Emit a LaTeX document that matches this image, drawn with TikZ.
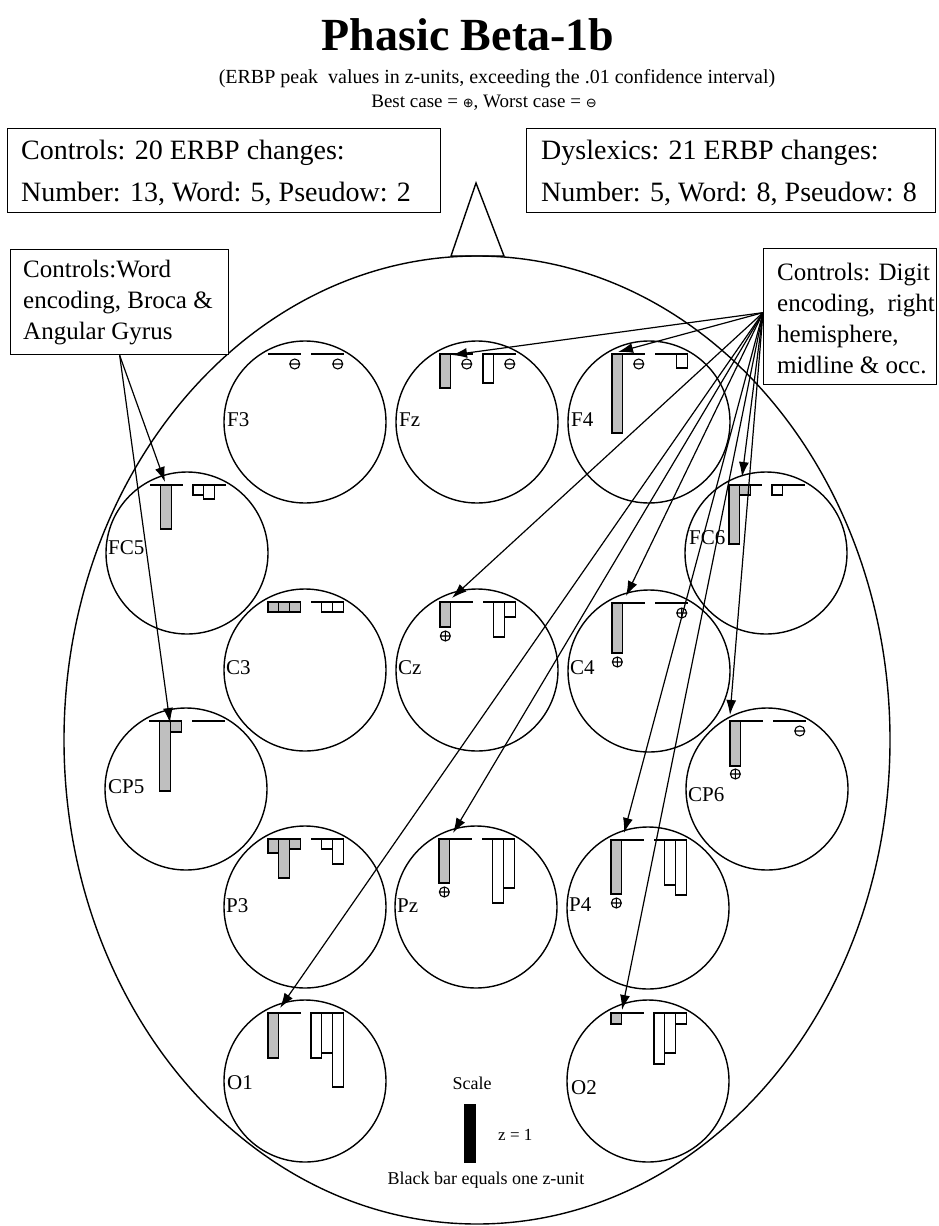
\documentclass[tikz,border=0pt]{standalone}
\usepackage{fontspec}
\setmainfont{Liberation Serif}
\newfontfamily\symf{DejaVu Sans}
\usetikzlibrary{arrows.meta}
\newcommand{\gbarAt}[2]{\draw[gbar] ({-37+10.7*(#1-1)},-68) rectangle ++(10.7,#2);}
\newcommand{\wbarAt}[2]{\draw[wbar] ({6+10.7*(#1-1)},-68) rectangle ++(10.7,#2);}
\newcommand{\bases}{\draw[baseln] (-37,-68) -- (-4,-68) (6,-68) -- (39,-68);}
\newcommand{\markL}[3]{\pic at ({-37+10.7*(#1-1)+5.35},{-68+#2}) {#3};}
\newcommand{\markR}[3]{\pic at ({6+10.7*(#1-1)+5.35},{-68+#2}) {#3};}
\tikzset{
 pics/worstm/.style={code={\draw[line width=1.1pt] (0,0) circle[radius=5pt] (-5,0) -- (5,0);}},
 pics/bestm/.style={code={\draw[line width=1.1pt] (0,0) circle[radius=5pt] (-5,0) -- (5,0) (0,-5) -- (0,5);}}
}
\begin{document}
\begin{tikzpicture}[x=1pt,y=-1pt,
  elec/.style={draw, circle, line width=1.4pt, minimum size=162pt, inner sep=0pt},
  gbar/.style={draw, line width=1.1pt, fill=black!25},
  wbar/.style={draw, line width=1.1pt, fill=white},
  baseln/.style={line width=1.3pt},
  conn/.style={line width=1.2pt, -{Latex[length=15pt,width=10pt]}},
  lbl/.style={anchor=west, inner sep=0pt, font=\fontsize{21}{24}\selectfont},
  tbox/.style={draw, line width=1.3pt, fill=white, anchor=north west, align=left, inner sep=0pt},
]
\useasboundingbox (0,0) rectangle (938,1226);
\fill[white] (0,0) rectangle (938,1226);

% title
\node[font=\fontsize{46}{50}\selectfont\bfseries, inner sep=0pt] (title) at (468,35) {Phasic Beta-1b};
\node[font=\fontsize{20}{24}\selectfont, inner sep=0pt] (sub) at (497,79) {(ERBP peak\ \ values in z-units, exceeding the .01 confidence interval)};
\node[font=\fontsize{19}{22}\selectfont, inner sep=0pt] (best) at (484,103) {Best case = {\symf\fontsize{13}{14}\selectfont ⊕}, Worst case = {\symf\fontsize{13}{14}\selectfont ⊖}};

% head
\draw[line width=1.4pt] (477,740) ellipse [x radius=413pt, y radius=484pt];
\draw[line width=1.4pt] (451,256) -- (476,183) -- (504,256) -- cycle;

% top boxes
\node[tbox, minimum width=433pt, minimum height=84pt] (cbox) at (7,128) {};
\node[anchor=west, inner sep=0pt, align=left, font=\fontsize{28}{42}\selectfont] (ctext) at (21,173) {Controls: 20 ERBP changes:\\Number: 13, Word: 5, Pseudow: 2};
\node[tbox, minimum width=409pt, minimum height=84pt] (dbox) at (526,128) {};
\node[anchor=west, inner sep=0pt, align=left, font=\fontsize{28}{42}\selectfont] (dtext) at (541,173) {Dyslexics: 21 ERBP changes:\\Number: 5, Word: 8, Pseudow: 8};

% side boxes
\node[tbox, minimum width=218pt, minimum height=105pt] (wbox) at (10,249) {};
\node[anchor=west, inner sep=0pt, align=left, font=\fontsize{25}{31}\selectfont] (wtext) at (23,303) {Controls:Word\\encoding, Broca \&\\Angular Gyrus};
\node[tbox, minimum width=173pt, minimum height=136pt] (gbox) at (763,248) {};
\node[anchor=west, inner sep=0pt, align=left, font=\fontsize{25}{31}\selectfont] (gtext) at (777,318) {Controls: Digit\\encoding,\ \ right\\hemisphere,\\midline \& occ.};

% electrodes
\node[elec] (F3) at (305,422) {};
\node[elec] (Fz) at (477,422) {};
\node[elec] (F4) at (649,422) {};
\node[elec] (FC5) at (187,553) {};
\node[elec] (FC6) at (766,553) {};
\node[elec] (C3) at (305,670) {};
\node[elec] (Cz) at (477,670) {};
\node[elec] (C4) at (649,671) {};
\node[elec] (CP5) at (186,789) {};
\node[elec] (CP6) at (767,789) {};
\node[elec] (P3) at (305,907) {};
\node[elec] (Pz) at (476,907) {};
\node[elec] (P4) at (648,908) {};
\node[elec] (O1) at (305,1081) {};
\node[elec] (O2) at (648,1081) {};

\node[lbl] (lF3) at (227,420) {F3};
\node[lbl] (lFz) at (399,420) {Fz};
\node[lbl] (lF4) at (571,420) {F4};
\node[lbl] (lFC5) at (108,548) {FC5};
\node[lbl] (lFC6) at (689,538) {FC6};
\node[lbl] (lC3) at (226,668) {C3};
\node[lbl] (lCz) at (398,668) {Cz};
\node[lbl] (lC4) at (570,668) {C4};
\node[lbl] (lCP5) at (108,787) {CP5};
\node[lbl] (lCP6) at (688,795) {CP6};
\node[lbl] (lP3) at (226,906) {P3};
\node[lbl] (lPz) at (397,906) {Pz};
\node[lbl] (lP4) at (569,905) {P4};
\node[lbl] (lO1) at (227,1083) {O1};
\node[lbl] (lO2) at (571,1088) {O2};

% bars
\begin{scope}[shift={(F3.center)}]\bases \markL{3}{10}{worstm} \markR{3}{10}{worstm}\end{scope}
\begin{scope}[shift={(Fz.center)}]\bases \gbarAt{1}{34} \markL{3}{10}{worstm} \wbarAt{1}{29} \markR{3}{10}{worstm}\end{scope}
\begin{scope}[shift={(F4.center)}]\bases \gbarAt{1}{79} \markL{3}{10}{worstm} \wbarAt{3}{14}\end{scope}
\begin{scope}[shift={(FC5.center)}]\bases \gbarAt{2}{44} \wbarAt{1}{10} \wbarAt{2}{14}\end{scope}
\begin{scope}[shift={(FC6.center)}]\bases \gbarAt{1}{59} \gbarAt{2}{10} \wbarAt{1}{10}\end{scope}
\begin{scope}[shift={(C3.center)}]\bases \gbarAt{1}{10} \gbarAt{2}{10} \gbarAt{3}{10} \wbarAt{2}{10} \wbarAt{3}{10}\end{scope}
\begin{scope}[shift={(Cz.center)}]\bases \gbarAt{1}{25} \markL{1}{34}{bestm} \wbarAt{2}{35} \wbarAt{3}{15}\end{scope}
\begin{scope}[shift={(C4.center)}]\bases \gbarAt{1}{50} \markL{1}{59}{bestm} \markR{3}{10}{bestm}\end{scope}
\begin{scope}[shift={(CP5.center)}]\bases \gbarAt{2}{70} \gbarAt{3}{11}\end{scope}
\begin{scope}[shift={(CP6.center)}]\bases \gbarAt{1}{45} \markL{1}{53}{bestm} \markR{3}{10}{worstm}\end{scope}
\begin{scope}[shift={(P3.center)}]\bases \gbarAt{1}{14} \gbarAt{2}{39} \gbarAt{3}{10} \wbarAt{2}{10} \wbarAt{3}{25}\end{scope}
\begin{scope}[shift={(Pz.center)}]\bases \gbarAt{1}{44} \markL{1}{53}{bestm} \wbarAt{2}{64} \wbarAt{3}{49}\end{scope}
\begin{scope}[shift={(P4.center)}]\bases \gbarAt{1}{54} \markL{1}{63}{bestm} \wbarAt{2}{45} \wbarAt{3}{55}\end{scope}
\begin{scope}[shift={(O1.center)}]\bases \gbarAt{1}{45} \wbarAt{1}{45} \wbarAt{2}{40} \wbarAt{3}{74}\end{scope}
\begin{scope}[shift={(O2.center)}]\bases \gbarAt{1}{11} \wbarAt{1}{51} \wbarAt{2}{40} \wbarAt{3}{11}\end{scope}

% arrow targets
\coordinate (tFz) at (452,355);
\coordinate (tF4) at (618,352);
\coordinate (tFC6) at (742,477);
\coordinate (tCz) at (452,598);
\coordinate (tC4) at (626,596);
\coordinate (tCP6) at (730,715);
\coordinate (tPz) at (453,833);
\coordinate (tP4) at (624,833);
\coordinate (tO1) at (280,1008);
\coordinate (tO2) at (622,1010);
\coordinate (tFC5) at (165,482);
\coordinate (tCP5) at (170,723);
\coordinate (gsrc) at ([yshift=4pt]gbox.west);

\foreach \t in {tFz,tF4,tFC6,tCz,tC4,tCP6,tPz,tP4,tO1,tO2}
  \draw[conn] (gsrc) -- (\t);
\draw[conn] (wbox.south) -- (tFC5);
\draw[conn] (wbox.south) -- (tCP5);

% scale
\node[font=\fontsize{18}{20}\selectfont, inner sep=0pt] (scl) at (472,1083) {Scale};
\node[fill=black, minimum width=12pt, minimum height=59pt, inner sep=0pt, anchor=north west] (zbar) at (464,1104) {};
\node[font=\fontsize{17}{20}\selectfont, inner sep=0pt, anchor=west] (zlab) at (498,1135) {z = 1};
\node[font=\fontsize{18}{20}\selectfont, inner sep=0pt] (zcap) at (486,1180) {Black bar equals one z-unit};
\end{tikzpicture}
\end{document}
